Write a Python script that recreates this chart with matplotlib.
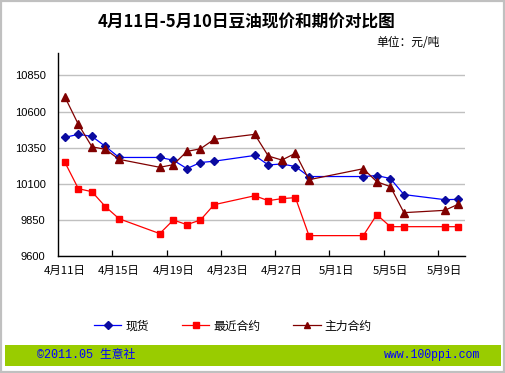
import matplotlib

matplotlib.use("Agg")

import matplotlib.dates as mdates
import matplotlib.pyplot as plt
import pandas as pd
from matplotlib.lines import Line2D
from matplotlib.patches import Rectangle

plt.rcParams["font.family"] = ["Noto Sans CJK SC", "DejaVu Sans"]

# data (yuan/ton)
dates = [
    "2011-04-11", "2011-04-12", "2011-04-13", "2011-04-14", "2011-04-15",
    "2011-04-18", "2011-04-19", "2011-04-20", "2011-04-21", "2011-04-22",
    "2011-04-25", "2011-04-26", "2011-04-27", "2011-04-28", "2011-04-29",
    "2011-05-03", "2011-05-04", "2011-05-05", "2011-05-06", "2011-05-09",
    "2011-05-10",
]
spot = [10421, 10442, 10428, 10358, 10282, 10282, 10263, 10205, 10247, 10256,
        10296, 10230, 10237, 10219, 10150, 10150, 10157, 10136, 10025, 9990, 9992]
nearby = [10250, 10066, 10045, 9941, 9858, 9755, 9849, 9817, 9849, 9955,
          10017, 9983, 9997, 10004, 9741, 9741, 9886, 9803, 9803, 9803, 9803]
main = [10702, 10511, 10356, 10338, 10269, 10214, 10232, 10324, 10342, 10407,
        10442, 10292, 10264, 10311, 10128, 10204, 10114, 10080, 9900, 9916, 9958]
series_labels = ["现货", "最近合约", "主力合约"]
y_ticks = [9600, 9850, 10100, 10350, 10600, 10850]
title = "4月11日-5月10日豆油现价和期价对比图"

W, H = 506, 373
fig = plt.figure(figsize=(W / 100, H / 100), dpi=100)
fig.patch.set_facecolor("white")


def px(x0, y0, x1, y1):
    # pixel box -> figure fraction [left, bottom, width, height]
    return [x0 / W, 1 - y1 / H, (x1 - x0) / W, (y1 - y0) / H]


ax = fig.add_axes(px(58, 53, 465, 256))
x = pd.to_datetime(dates)

styles = [
    (spot, "#0000FF", "D", "#0A0AA0", 4.2),
    (nearby, "#FF0000", "s", "#FF0000", 5.0),
    (main, "#800000", "^", "#800000", 5.5),
]
handles = []
for (vals, lc, mk, mc, ms), label in zip(styles, series_labels):
    ax.plot(x, vals, color=lc, linewidth=0.9, marker=mk, markersize=ms,
            markerfacecolor=mc, markeredgecolor=mc, zorder=3)
    handles.append(Line2D([], [], color=lc, linewidth=0.9, marker=mk,
                          markersize=ms * 0.9, markerfacecolor=mc, markeredgecolor=mc, label=label))

start = pd.Timestamp("2011-04-11")
half = pd.Timedelta(hours=12)
ax.set_xlim(start - half, pd.Timestamp("2011-05-10") + half)
ax.set_ylim(9600, 11005)

label_days = pd.date_range(start, periods=8, freq="4D")
ax.set_xticks(label_days)
ax.set_xticklabels([f"{d.month}月{d.day}日" for d in label_days], fontsize=8.2)
ax.set_xticks(label_days[1:] - half, minor=True)
ax.tick_params(axis="x", which="major", length=0, pad=7)
ax.tick_params(axis="x", which="minor", length=4, direction="in", width=0.9)

ax.set_yticks(y_ticks)
ax.set_yticklabels([str(v) for v in y_ticks], fontsize=8, family="Liberation Sans")
ax.tick_params(axis="y", length=0, pad=9)
ax.grid(axis="y", color="#C0C0C0", linewidth=1.0)
ax.set_axisbelow(True)

for side in ("top", "right"):
    ax.spines[side].set_visible(False)
for side in ("left", "bottom"):
    ax.spines[side].set_linewidth(1.0)

fig.text(247 / W, 1 - 23 / H, title, ha="center", va="center", fontsize=12, fontweight="bold")
fig.text(440 / W, 1 - 43 / H, "单位：元/吨", ha="right", va="center", fontsize=8.5)

fig.legend(handles=handles, loc="center", bbox_to_anchor=(233 / W, 1 - 326 / H), ncol=3,
           frameon=False, fontsize=8.5, handlelength=2.3, handletextpad=0.35,
           columnspacing=2.8, borderpad=0)

# footer strip and outer frame
fig.patches.append(Rectangle((5 / W, 1 - 366 / H), 496 / W, 21 / H, transform=fig.transFigure,
                             facecolor="#99CC00", edgecolor="none", zorder=0))
fig.text(37 / W, 1 - 355 / H, "©2011.05 生意社", ha="left", va="center", color="#0000FF",
         fontsize=8.5, family=["Liberation Mono", "Noto Sans CJK SC"])
fig.text(480 / W, 1 - 355 / H, "www.100ppi.com", ha="right", va="center", color="#0000FF",
         fontsize=8.3, family="Liberation Mono")
fig.patches.append(Rectangle((0.8 / W, 1 - 371.5 / H), 503.5 / W, 370.5 / H, transform=fig.transFigure,
                             facecolor="none", edgecolor="#C0C0C0", linewidth=1.6, zorder=5))

fig.savefig("out.png", dpi=100)
